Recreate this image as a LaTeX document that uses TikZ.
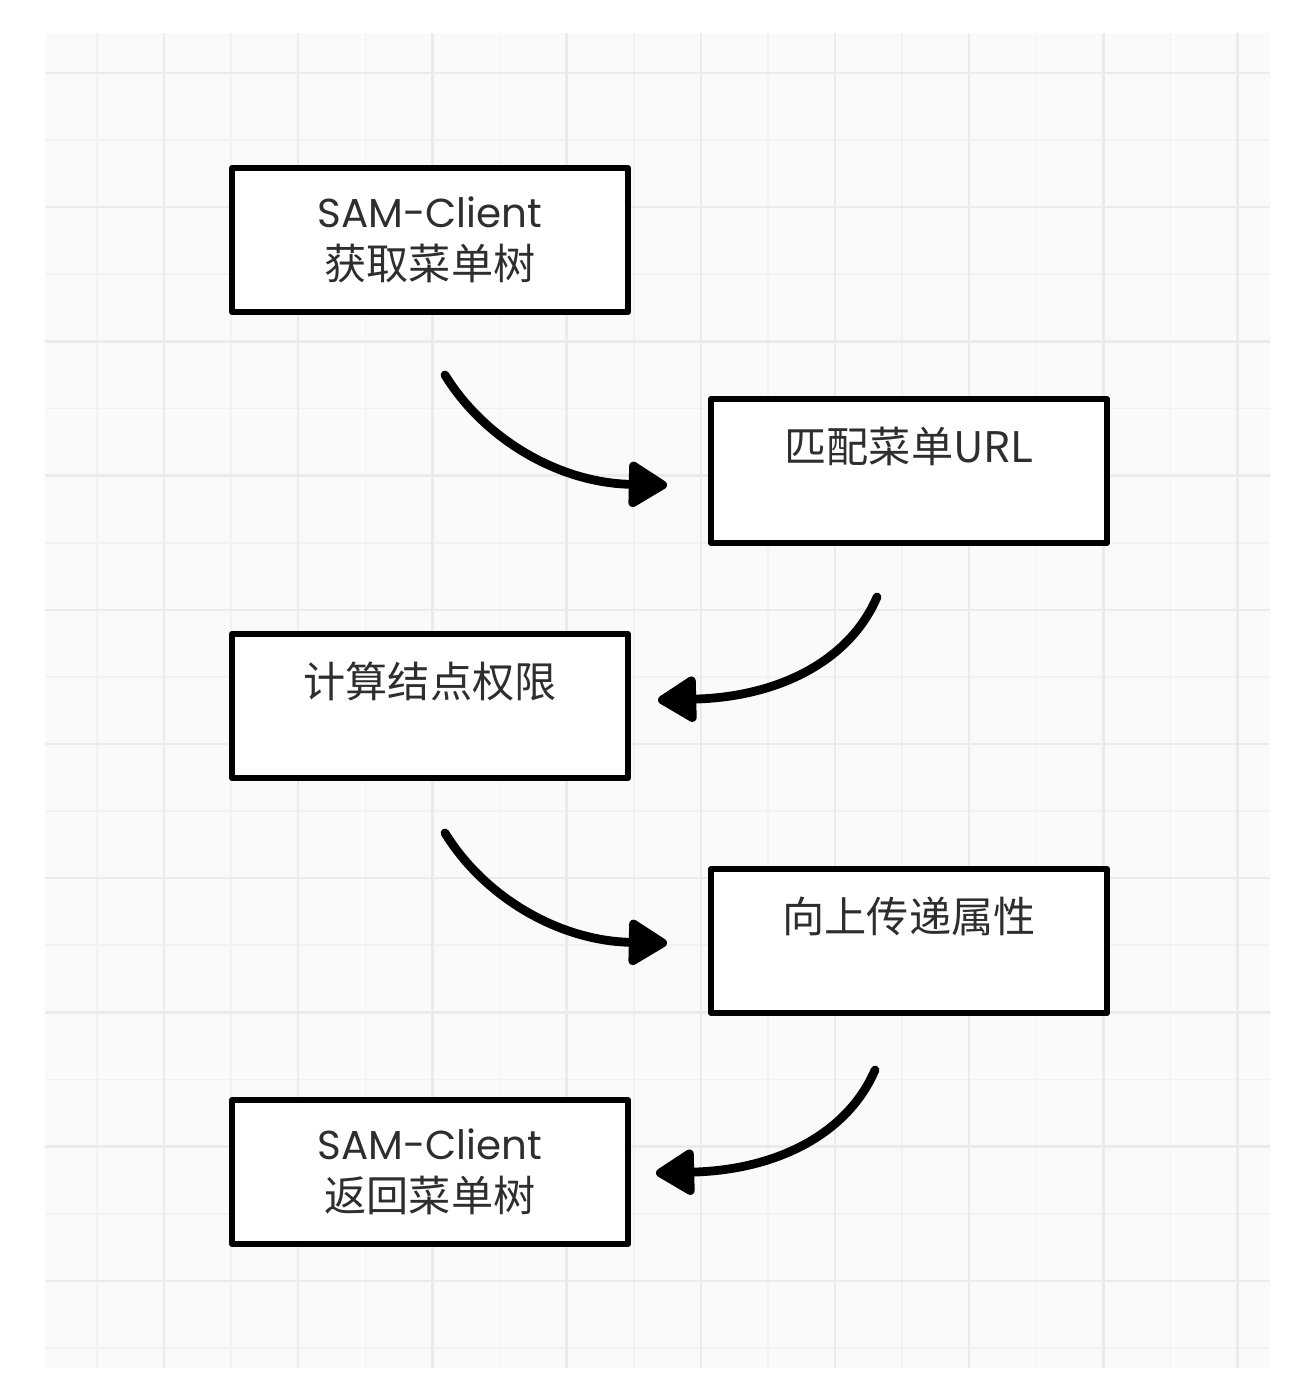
\documentclass[tikz,border=0pt]{standalone}
\usepackage{fontspec}
\setmainfont{Noto Sans CJK SC}
\newfontfamily\samfont{Poppins}
\usetikzlibrary{arrows.meta}
\definecolor{gridbg}{HTML}{FAFAFA}
\definecolor{gridminor}{HTML}{F2F2F2}
\definecolor{gridmajor}{HTML}{EBEBEB}
\definecolor{inktext}{HTML}{2E2E2E}
\tikzset{%
   stepbox/.style={draw=black, line width=3.4pt, fill=white, line join=round,
      minimum width=7.92cm, minimum height=2.88cm, inner sep=0pt, align=center,
      text=inktext, font=\fontsize{24}{29.5}\selectfont},
   flow/.style={line width=5pt, line cap=round,
      -{Triangle[length=0.85cm, width=1cm, round]}},
   minor/.style={draw=gridminor, line width=1pt},
   major/.style={draw=gridmajor, line width=1.4pt},
}

\begin{document}
\begin{tikzpicture}[x=0.02cm, y=-0.02cm]
      \useasboundingbox (0,0) rectangle (1310,1400);
      \fill[gridbg] (45,33) rectangle (1270,1368);
      \foreach \i in {0,...,17} \draw[minor] ({97+67.1*\i},33) -- ++(0,1335);
      \foreach \i in {0,...,19} \draw[minor] (45,{73+67.1*\i}) -- ++(1225,0);
      \foreach \i in {0,...,8} \draw[major] ({164+134.2*\i},33) -- ++(0,1335);
      \foreach \i in {0,...,9} \draw[major] (45,{73+134.2*\i}) -- ++(1225,0);
      \node[stepbox] (s0) at (430,240) {{\samfont\fontsize{23}{29.5}\selectfont SAM-Client}\\获取菜单树};
      \node[stepbox] (s1) at (909,471) {匹配菜单URL\\[-8pt] \strut};
      \node[stepbox] (s2) at (430,706) {计算结点权限\\[-8pt] \strut};
      \node[stepbox] (s3) at (909,941) {向上传递属性\\[-8pt] \strut};
      \node[stepbox] (s4) at (430,1172) {{\samfont\fontsize{23}{29.5}\selectfont SAM-Client}\\返回菜单树};
      \coordinate (c0) at (445,375);
      \coordinate (c1) at (667,485);
      \coordinate (c2) at (877,597);
      \coordinate (c3) at (658,700);
      \coordinate (c4) at (445,833);
      \coordinate (c5) at (667,943);
      \coordinate (c6) at (875,1070);
      \coordinate (c7) at (656,1173);
      \draw[flow] (c0) .. controls +(40,65) and +(-107,-2) .. (c1);
      \draw[flow] (c2) .. controls +(-27,63) and +(122,-3) .. (c3);
      \draw[flow] (c4) .. controls +(40,65) and +(-107,-2) .. (c5);
      \draw[flow] (c6) .. controls +(-27,63) and +(122,-3) .. (c7);
   \end{tikzpicture}
\end{document}
